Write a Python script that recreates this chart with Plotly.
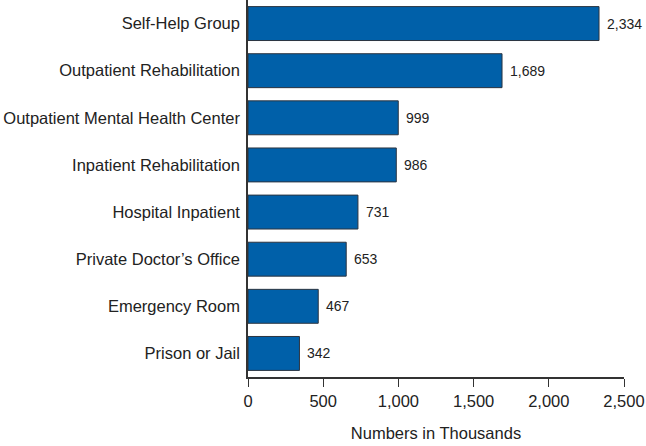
import plotly.graph_objects as go

categories = ["Self-Help Group", "Outpatient Rehabilitation", "Outpatient Mental Health Center",
              "Inpatient Rehabilitation", "Hospital Inpatient", "Private Doctor\u2019s Office",
              "Emergency Room", "Prison or Jail"]
values = [2334, 1689, 999, 986, 731, 653, 467, 342]
tick_vals = [0, 500, 1000, 1500, 2000, 2500]
tick_text = ["0", "500", "1,000", "1,500", "2,000", "2,500"]

fig = go.Figure(go.Bar(
    x=values, y=categories, orientation="h",
    marker=dict(color="#0060A9", line=dict(color="#2B3440", width=1)),
))
for v, c in zip(values, categories):
    fig.add_annotation(x=v, y=c, text=f"{v:,}", showarrow=False, xanchor="left",
                       xshift=6, font=dict(size=14, color="#222"))
fig.update_layout(
    width=646, height=446,
    margin=dict(l=248, r=22, t=0, b=69, autoexpand=False),
    paper_bgcolor="white", plot_bgcolor="white",
    font=dict(family="Liberation Sans, Arial, sans-serif", size=14, color="#222"),
    bargap=0.28, showlegend=False,
)
fig.update_xaxes(range=[0, 2500], tickvals=tick_vals, ticktext=tick_text,
                 showline=True, linecolor="#333", linewidth=1.5, ticks="outside",
                 ticklen=8, tickcolor="#333", showgrid=False, zeroline=False,
                 title=dict(text="Numbers in Thousands", standoff=19, font=dict(size=16.5)),
                 tickfont=dict(size=16.5), automargin=False)
fig.update_yaxes(autorange="reversed", showline=True, linecolor="#333", linewidth=1.5,
                 ticks="", showgrid=False, tickfont=dict(size=16.5), ticklabelstandoff=3,
                 automargin=False)
fig.write_html("out.html", config={"displayModeBar": False},
               post_script="document.body.style.margin='0';")
